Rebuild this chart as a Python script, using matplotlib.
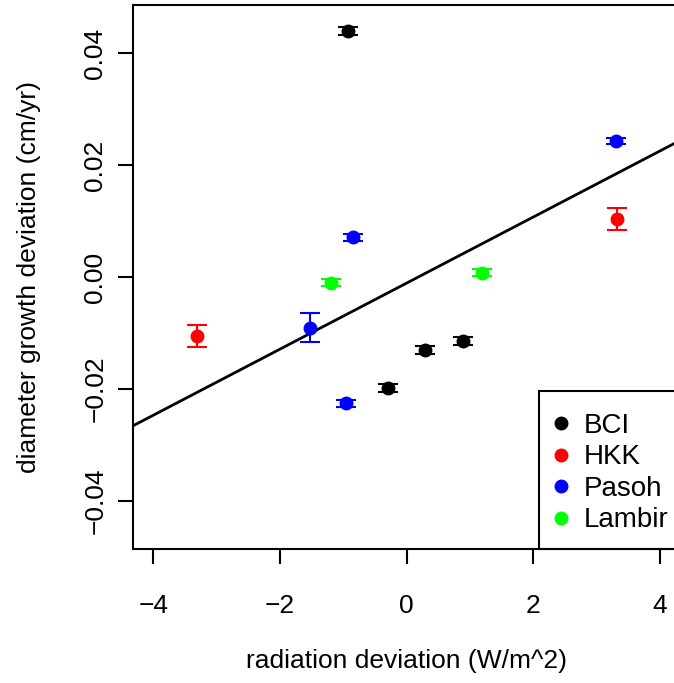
import matplotlib.pyplot as plt
from matplotlib.patches import Rectangle

sites = ["BCI", "HKK", "Pasoh", "Lambir"]
site_colors = ["black", "red", "blue", "#00ff00"]

# radiation deviation, growth deviation, standard error per site
rad_x = {
    "BCI": [-0.93, -0.285, 0.30, 0.89],
    "HKK": [-3.31, 3.32],
    "Pasoh": [3.31, -0.85, -1.53, -0.955],
    "Lambir": [-1.19, 1.19],
}
growth_y = {
    "BCI": [0.0440, -0.0198, -0.0130, -0.0114],
    "HKK": [-0.0105, 0.0104],
    "Pasoh": [0.0243, 0.0071, -0.0091, -0.0226],
    "Lambir": [-0.0010, 0.0008],
}
growth_se = {
    "BCI": [0.0007, 0.0007, 0.0007, 0.0007],
    "HKK": [0.0020, 0.0020],
    "Pasoh": [0.0006, 0.0006, 0.0026, 0.0006],
    "Lambir": [0.0006, 0.0006],
}

fit_intercept = -0.0011
fit_slope = 0.0059

plt.rcParams['font.family'] = ['Liberation Sans', 'DejaVu Sans']
fs = 19

fig = plt.figure(figsize=(6.74, 6.83), dpi=100)
ax = fig.add_axes([133 / 674, 134 / 683, 547 / 674, 544 / 683])

for site, col in zip(sites, site_colors):
    ax.errorbar(rad_x[site], growth_y[site], yerr=growth_se[site], fmt='o',
                color=col, ms=9, capsize=7.5, elinewidth=1.5, capthick=1.5,
                label=site, zorder=3)

ax.axline((0, fit_intercept), slope=fit_slope, color='black', lw=2, zorder=2)

ax.set_xlim(-4.32, 4.32)
ax.set_ylim(-0.0486, 0.0486)
ax.set_xticks([-4, -2, 0, 2, 4])
ax.set_xticklabels(['\u22124', '\u22122', '0', '2', '4'])
ax.set_yticks([-0.04, -0.02, 0.0, 0.02, 0.04])
ax.set_yticklabels(['\u22120.04', '\u22120.02', '0.00', '0.02', '0.04'],
                   rotation=90, va='center')
ax.tick_params(direction='out', length=10.5, width=1.5, labelsize=fs)
ax.tick_params(axis='x', pad=22)
ax.tick_params(axis='y', pad=8)
for s in ax.spines.values():
    s.set_linewidth(1.5)

ax.set_xlabel('radiation deviation (W/m^2)', fontsize=fs)
ax.set_ylabel('diameter growth deviation (cm/yr)', fontsize=fs)
ax.xaxis.set_label_coords(0.5, -0.184)
ax.yaxis.set_label_coords(-0.168, 0.5)

# legend box, bottom right corner (runs off the right edge like the original)
ax.add_patch(Rectangle(((539 - 133) / 547, 0), 0.5, (549 - 391) / 544,
                       transform=ax.transAxes, fill=False, edgecolor='black',
                       lw=1.5, clip_on=False, zorder=4))
handles = [plt.Line2D([], [], marker='o', ls='', color=c, ms=9) for c in site_colors]
leg = ax.legend(handles, sites, loc='center left',
                bbox_to_anchor=((548 - 133) / 547, (549 - 473) / 544),
                borderaxespad=0, borderpad=0, frameon=False, fontsize=20,
                handlelength=0.95, handletextpad=0.32, labelspacing=0.2)

plt.savefig('out.png', dpi=100)
